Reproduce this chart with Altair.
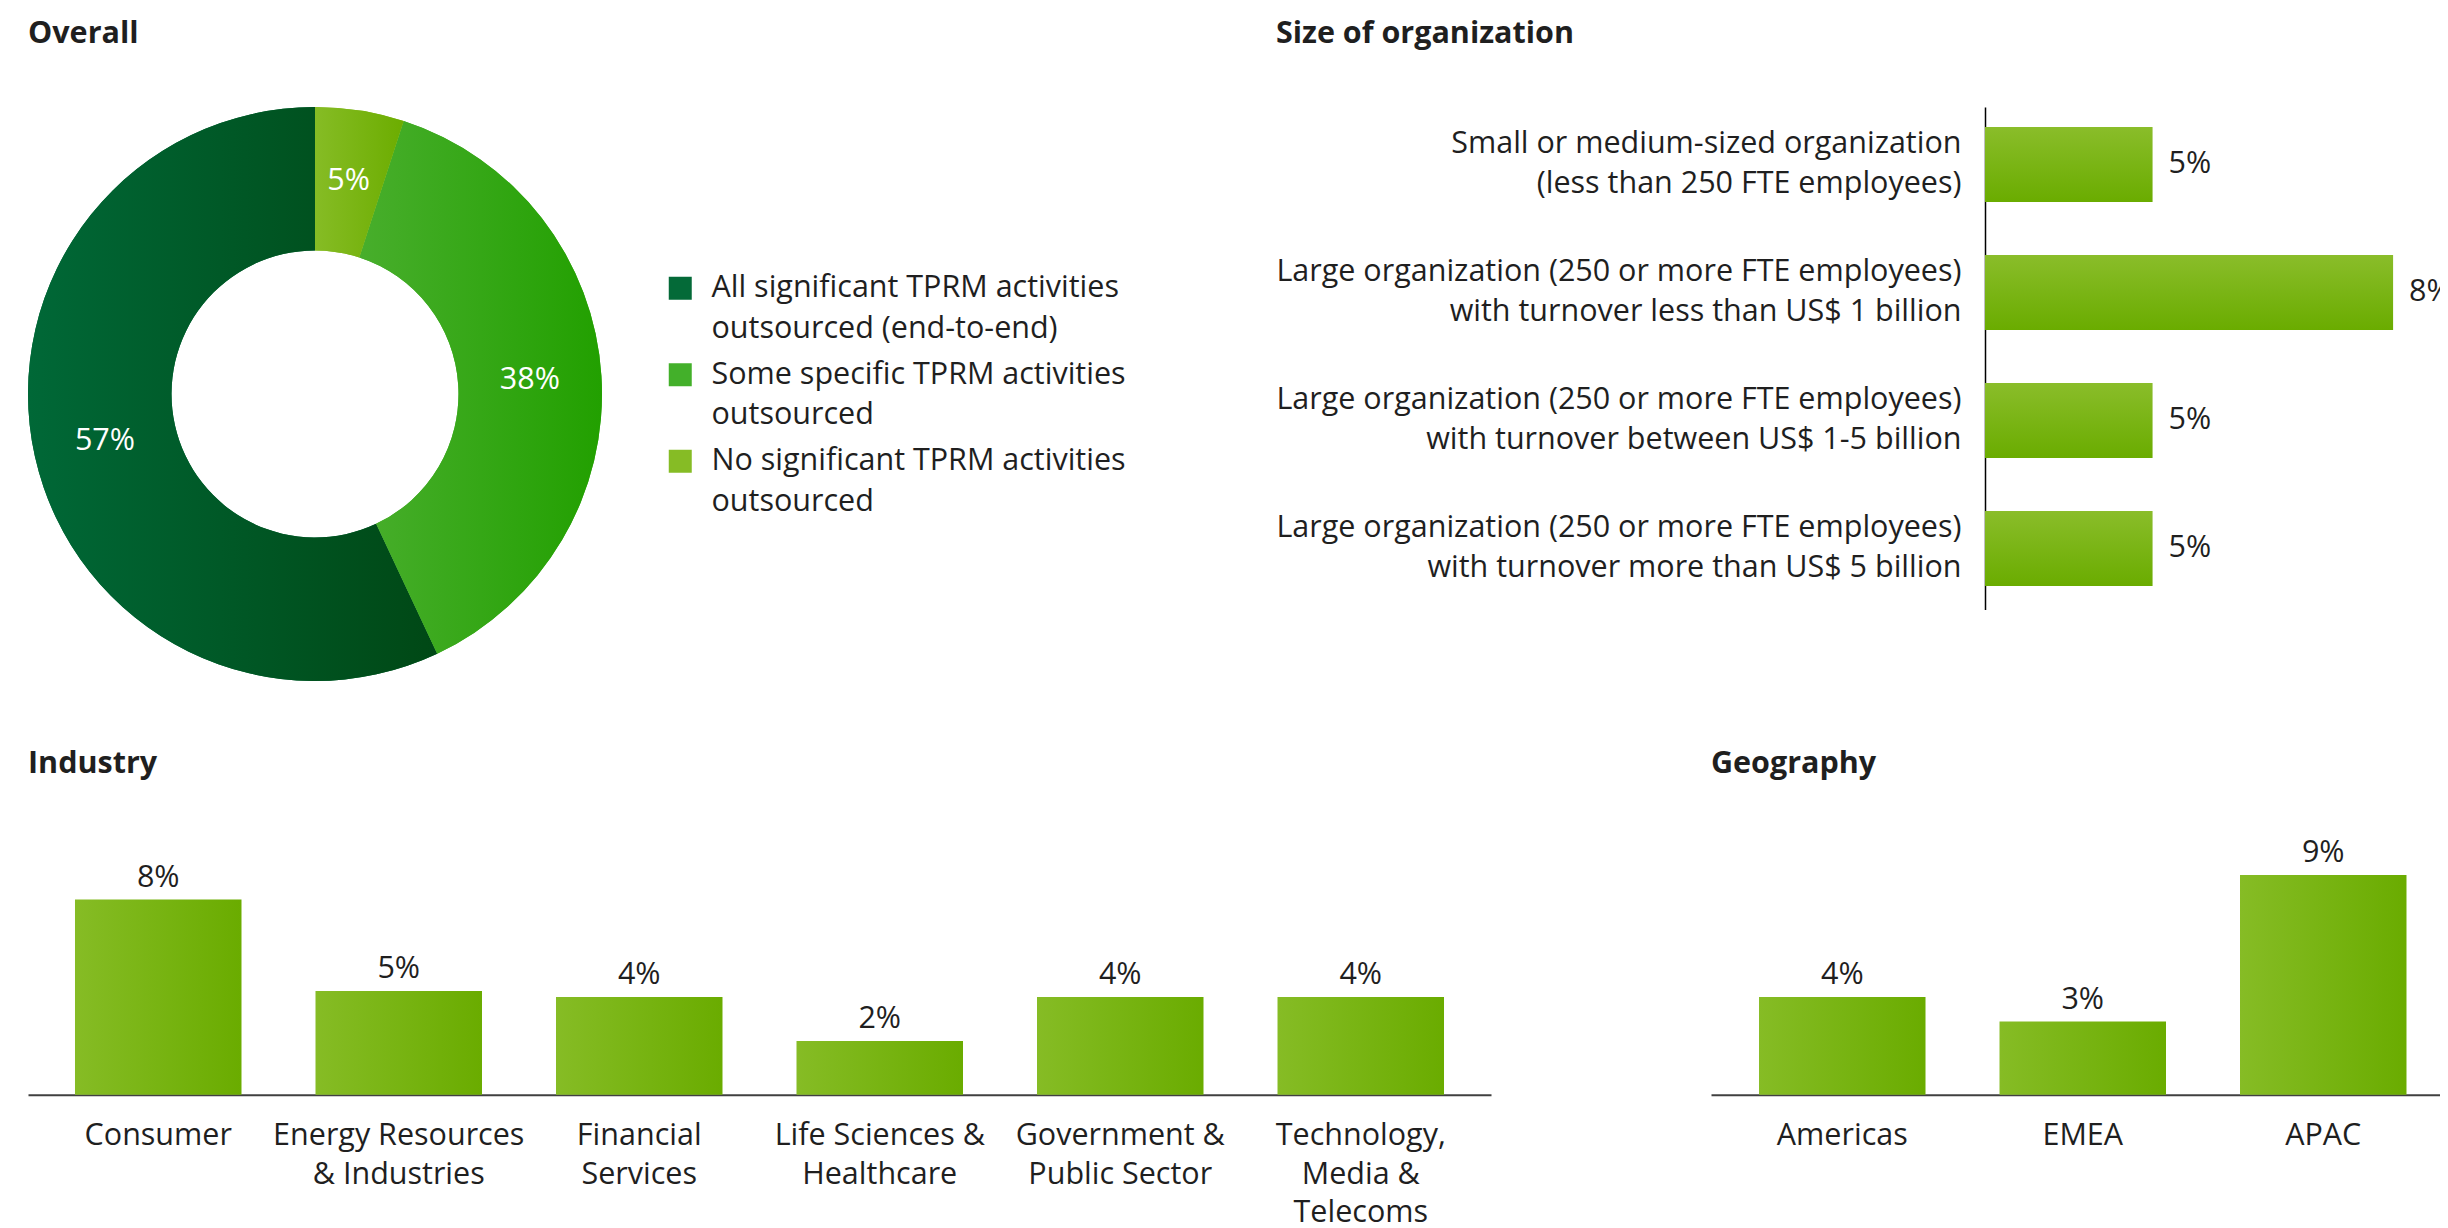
import altair as alt
import pandas as pd

FONT = "Open Sans"
TEXT = "#1f1f1f"
FS = 30.5
TFS = 30.5

# ---------------- data ----------------
OVERALL_KEYS = ["all", "some", "none"]
OVERALL_CATS = [
    "All significant TPRM activities\noutsourced (end-to-end)",
    "Some specific TPRM activities\noutsourced",
    "No significant TPRM activities\noutsourced",
]
OVERALL_PCT = [57, 38, 5]
OVERALL_COLORS = ["#046a38", "#43b02a", "#86bc25"]

SIZE_CATS = [
    "Small or medium-sized organization\n(less than 250 FTE employees)",
    "Large organization (250 or more FTE employees)\nwith turnover less than US$ 1 billion",
    "Large organization (250 or more FTE employees)\nwith turnover between US$ 1-5 billion",
    "Large organization (250 or more FTE employees)\nwith turnover more than US$ 5 billion",
]
SIZE_PCT = [5, 8, 5, 5]
SIZE_AXIS = [2.91, 8.585]

INDUSTRY_CATS = [
    "Consumer",
    "Energy Resources\n& Industries",
    "Financial\nServices",
    "Life Sciences &\nHealthcare",
    "Government &\nPublic Sector",
    "Technology,\nMedia &\nTelecoms",
]
INDUSTRY_PCT = [8.0, 4.25, 4.0, 2.2, 4.0, 4.0]
INDUSTRY_LABELS = ["8%", "5%", "4%", "2%", "4%", "4%"]

GEO_CATS = ["Americas", "EMEA", "APAC"]
GEO_PCT = [4.0, 3.0, 9.0]
GEO_LABELS = ["4%", "3%", "9%"]

COL_AXIS = [0, 12]


def grad(c0, c1, vertical=False):
    return {
        "gradient": "linear",
        "x1": 0, "y1": 0,
        "x2": 0 if vertical else 1,
        "y2": 1 if vertical else 0,
        "stops": [{"offset": 0, "color": c0}, {"offset": 1, "color": c1}],
    }


SLICE_GRADS = {
    "all": grad("#006837", "#004815"),
    "some": grad("#48ae2c", "#22a000"),
    "none": grad("#86bc25", "#6cad00"),
}
BAR_GRAD = grad("#86bc25", "#6aac00")
HBAR_GRAD = grad("#8abd2a", "#6aac00", vertical=True)

SPLIT = "split(datum.label, '\\n')"


def title(text, offset):
    return alt.TitleParams(
        text=text, anchor="start", font=FONT, fontSize=TFS, fontWeight="bold",
        color=TEXT, baseline="alphabetic", offset=offset,
    )


# ---------------- Overall (donut) ----------------
overall_df = pd.DataFrame({
    "key": OVERALL_KEYS,
    "cat": OVERALL_CATS,
    "pct": OVERALL_PCT,
    "label": [f"{v}%" for v in OVERALL_PCT],
})

donut_base = alt.Chart(overall_df).encode(
    theta=alt.Theta("pct:Q", stack=True),
    order=alt.Order("pct:Q", sort="ascending"),
)

legend_arcs = donut_base.mark_arc(innerRadius=143.5, outerRadius=287).encode(
    color=alt.Color(
        "cat:N",
        scale=alt.Scale(domain=OVERALL_CATS, range=OVERALL_COLORS),
        legend=alt.Legend(
            title=None, orient="none", legendX=637, legendY=166, padding=0,
            symbolType="square", symbolSize=529, symbolStrokeWidth=0,
            labelFont=FONT, labelFontSize=FS, labelColor=TEXT, labelLimit=1000,
            labelOffset=16, labelExpr=SPLIT, rowPadding=14.5,
        ),
    )
)

fill_rule = (
    alt.when(alt.datum.key == "all").then(alt.value(SLICE_GRADS["all"]))
    .when(alt.datum.key == "some").then(alt.value(SLICE_GRADS["some"]))
    .otherwise(alt.value(SLICE_GRADS["none"]))
)
grad_arcs = donut_base.mark_arc(innerRadius=143.5, outerRadius=287).encode(fill=fill_rule)

donut_text = donut_base.mark_text(
    radius=215.25, font=FONT, fontSize=FS, color="white", align="center", baseline="middle"
).encode(text="label:N")

overall = alt.layer(legend_arcs, grad_arcs, donut_text).properties(
    width=574, height=574, title=title("Overall", 33.2)
)

# ---------------- Size of organization ----------------
size_df = pd.DataFrame({
    "org": SIZE_CATS,
    "pct": SIZE_PCT,
    "label": [f"{v}%" for v in SIZE_PCT],
})
size_base = alt.Chart(size_df).encode(
    y=alt.Y(
        "org:N", sort=SIZE_CATS,
        scale=alt.Scale(paddingInner=0.4142, paddingOuter=0.1695, align=0.4585),
        axis=alt.Axis(
            title=None, ticks=False, domainColor="#000000", domainWidth=1.5,
            labelFont=FONT, labelFontSize=FS, labelColor=TEXT, labelPadding=24,
            labelLimit=2000, labelExpr=SPLIT, labelLineHeight=40, labelAlign="right",
            labelBaseline="middle", labelOffset=-20,
        ),
    ),
)
size_bars = size_base.mark_bar(color=HBAR_GRAD).encode(
    x=alt.X("pct:Q", scale=alt.Scale(domain=SIZE_AXIS, zero=False, nice=False), axis=None),
    x2=alt.X2Datum(SIZE_AXIS[0]),
)
size_text = size_base.mark_text(
    align="left", baseline="middle", dx=16, font=FONT, fontSize=FS, color=TEXT, clip=True
).encode(x="pct:Q", text="label:N")
size = alt.layer(size_bars, size_text).properties(
    width=455, height=502.5, title=title("Size of organization", 33.2)
)


# ---------------- column charts ----------------
def column_chart(cats, vals, labels, width, pad_outer, align, ttl):
    df = pd.DataFrame({"cat": cats, "pct": vals, "label": labels})
    base = alt.Chart(df).encode(
        x=alt.X(
            "cat:N", sort=cats,
            scale=alt.Scale(paddingInner=0.3077, paddingOuter=pad_outer, align=align),
            axis=alt.Axis(
                title=None, ticks=False, labelAngle=0, domainColor="#404040", domainWidth=2,
                labelFont=FONT, labelFontSize=FS, labelColor=TEXT, labelPadding=26,
                labelLimit=2000, labelExpr=SPLIT, labelLineHeight=38.5, labelBaseline="top",
            ),
        ),
        y=alt.Y("pct:Q", scale=alt.Scale(domain=COL_AXIS, nice=False, zero=True), axis=None),
    )
    bars = base.mark_bar(color=BAR_GRAD)
    txt = base.mark_text(
        baseline="alphabetic", align="center", dy=-13, font=FONT, fontSize=FS, color=TEXT
    ).encode(text="label:N")
    return alt.layer(bars, txt).properties(width=width, height=292.8, title=title(ttl, -1.9))


industry = column_chart(INDUSTRY_CATS, INDUSTRY_PCT, INDUSTRY_LABELS, 1463, 0.1954, 0.5, "Industry")
geo = column_chart(GEO_CATS, GEO_PCT, GEO_LABELS, 729, 0.1695, 0.589, "Geography")

top = alt.hconcat(overall, size, spacing=1383, bounds="flush").resolve_scale(
    x="independent", y="independent"
)
bottom = alt.hconcat(industry, geo, spacing=220, bounds="flush").resolve_scale(
    x="independent", y="independent"
)

chart = (
    alt.vconcat(top, bottom, spacing=694.9, bounds="flush")
    .resolve_scale(x="independent", y="independent", color="independent")
    .properties(padding={"left": 20, "top": 11, "right": 0, "bottom": 0}, background="white")
    .configure(style={"guide-label": {"lineHeight": 40.5}})
    .configure_view(strokeWidth=0)
)

chart.save("out.html", embed_options={"renderer": "svg", "actions": False})
